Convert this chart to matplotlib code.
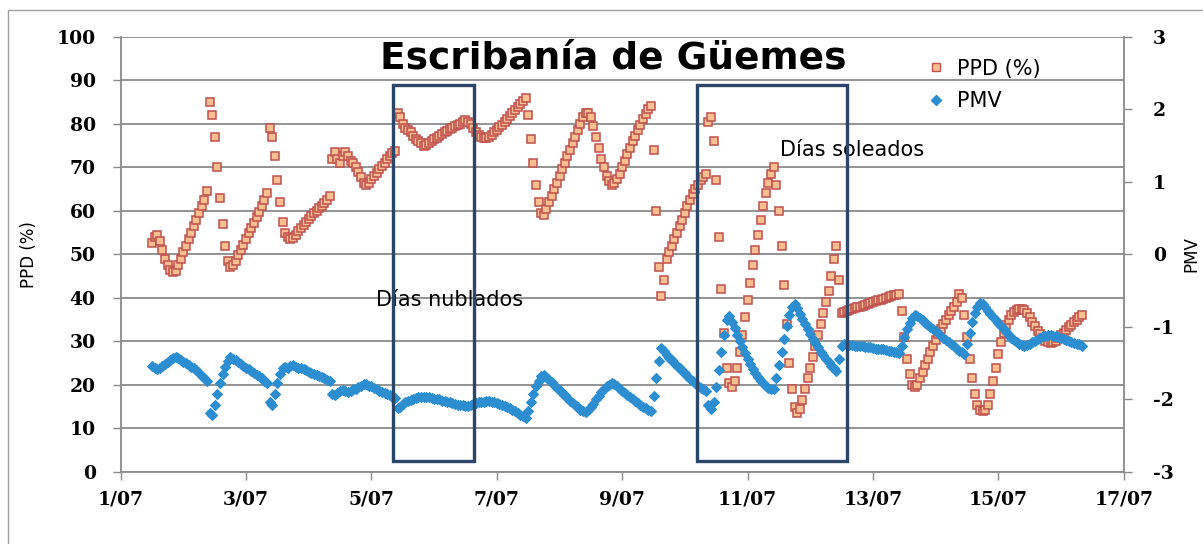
import numpy as np

import matplotlib
matplotlib.use('agg')

from matplotlib import pyplot as plt
from matplotlib.patches import Rectangle
from matplotlib.lines import Line2D

plt.rcParams['axes.unicode_minus'] = False

# hourly readings, first one on 1/07 at 12:00
start_day = 1.5

ppd = [
    52.5, 54.0, 54.5, 53.0, 51.0, 49.0, 47.5, 46.5, 46.0, 46.2, 47.5, 49.0, 50.5, 52.0, 53.5, 55.0, 56.5, 58.0, 59.5, 61.0, 62.5, 64.5, 85.0, 82.0,
    77.0, 70.0, 63.0, 57.0, 52.0, 48.5, 47.0, 47.5, 48.5, 49.8, 51.0, 52.2, 53.5, 54.8, 56.0, 57.2, 58.5, 59.8, 61.0, 62.5, 64.0, 79.0, 77.0, 72.5,
    67.0, 62.0, 57.5, 55.0, 54.0, 53.5, 53.8, 54.5, 55.3, 56.0, 56.8, 57.5, 58.2, 58.8, 59.5, 60.0, 60.6, 61.2, 61.8, 62.4, 63.5, 72.0, 73.5, 72.0,
    71.0, 72.5, 73.5, 72.5, 71.5, 71.0, 70.0, 69.0, 67.8, 66.5, 66.0, 66.5, 67.2, 68.0, 68.8, 69.5, 70.2, 71.0, 71.8, 72.5, 73.2, 73.8, 82.5, 81.5,
    80.0, 79.0, 78.5, 78.0, 77.3, 76.5, 76.0, 75.5, 75.0, 75.2, 75.5, 76.0, 76.4, 76.8, 77.2, 77.6, 78.0, 78.4, 78.8, 79.1, 79.4, 79.7, 80.0, 80.5,
    80.8, 80.5, 80.0, 79.0, 78.2, 77.5, 77.0, 76.8, 76.8, 77.0, 77.5, 78.0, 78.6, 79.2, 79.8, 80.4, 81.0, 81.7, 82.4, 83.1, 83.8, 84.5, 85.3, 86.0,
    82.0, 76.5, 71.0, 66.0, 62.0, 59.5, 59.0, 60.5, 62.0, 63.5, 65.0, 66.5, 68.0, 69.5, 71.0, 72.5, 74.0, 75.5, 77.0, 78.5, 80.0, 81.5, 82.5, 82.5,
    81.5, 79.5, 77.0, 74.5, 72.0, 70.0, 68.0, 66.8, 66.0, 66.3, 67.3, 68.5, 70.0, 71.5, 73.0, 74.5, 76.0, 77.3, 78.6, 79.8, 81.0, 82.2, 83.3, 84.0,
    74.0, 60.0, 47.0, 40.5, 44.0, 49.0, 50.5, 52.0, 53.5, 55.0, 56.5, 58.0, 59.5, 61.0, 62.5, 63.8, 65.0, 66.0, 67.0, 67.8, 68.5, 80.5, 81.5, 76.0,
    67.0, 54.0, 42.0, 32.0, 24.0, 20.5, 19.5, 21.0, 24.0, 27.5, 31.5, 35.5, 39.5, 43.5, 47.5, 51.0, 54.5, 58.0, 61.0, 64.0, 66.5, 68.5, 70.0, 66.0,
    60.0, 52.0, 43.0, 34.0, 25.0, 19.0, 15.0, 13.5, 14.5, 16.5, 19.0, 21.5, 24.0, 26.5, 29.0, 31.5, 34.0, 36.5, 39.0, 41.5, 45.0, 49.0, 52.0, 44.0,
    36.5, 36.8, 37.0, 37.2, 37.4, 37.6, 37.8, 38.0, 38.2, 38.4, 38.6, 38.8, 39.0, 39.2, 39.4, 39.6, 39.8, 40.0, 40.2, 40.4, 40.6, 40.7, 40.8, 37.0,
    31.0, 26.0, 22.5, 20.0, 19.5, 20.0, 21.5, 23.0, 24.5, 26.0, 27.5, 29.0, 30.3, 31.6, 32.9, 34.0, 35.0, 36.0, 37.0, 38.0, 39.0, 41.0, 40.0, 36.0,
    31.0, 26.0, 21.5, 18.0, 15.5, 14.3, 14.0, 14.2, 15.5, 18.0, 21.0, 24.0, 27.0, 29.8, 32.0, 33.8, 35.0, 36.0, 36.8, 37.3, 37.5, 37.5, 37.2, 36.5,
    35.5, 34.5, 33.5, 32.5, 31.6, 30.8, 30.2, 29.8, 29.6, 29.8, 30.2, 30.8, 31.4, 32.0, 32.6, 33.2, 33.8, 34.4, 35.0, 35.5, 36.0,
]

pmv = [
    -1.54, -1.56, -1.58, -1.57, -1.54, -1.51, -1.48, -1.45, -1.43, -1.41, -1.43, -1.45, -1.48, -1.50, -1.52, -1.55, -1.57, -1.60, -1.63, -1.67, -1.70, -1.74, -2.19, -2.22,
    -2.07, -1.92, -1.77, -1.65, -1.55, -1.47, -1.42, -1.44, -1.46, -1.49, -1.51, -1.54, -1.56, -1.58, -1.61, -1.63, -1.66, -1.68, -1.71, -1.74, -1.77, -2.04, -2.07, -1.92,
    -1.77, -1.65, -1.57, -1.55, -1.56, -1.54, -1.53, -1.55, -1.57, -1.57, -1.58, -1.60, -1.62, -1.63, -1.65, -1.66, -1.68, -1.69, -1.71, -1.73, -1.75, -1.92, -1.94, -1.91,
    -1.88, -1.87, -1.88, -1.90, -1.88, -1.86, -1.85, -1.83, -1.81, -1.79, -1.79, -1.81, -1.82, -1.84, -1.86, -1.88, -1.90, -1.91, -1.93, -1.94, -1.96, -1.98, -2.12, -2.10,
    -2.06, -2.04, -2.02, -2.01, -1.99, -1.98, -1.97, -1.96, -1.96, -1.96, -1.97, -1.98, -1.99, -2.00, -2.00, -2.02, -2.02, -2.03, -2.04, -2.05, -2.06, -2.07, -2.08, -2.08,
    -2.09, -2.09, -2.08, -2.06, -2.05, -2.04, -2.03, -2.03, -2.02, -2.02, -2.03, -2.04, -2.05, -2.06, -2.08, -2.09, -2.11, -2.12, -2.14, -2.16, -2.18, -2.21, -2.23, -2.25,
    -2.16, -2.04, -1.92, -1.81, -1.74, -1.68, -1.66, -1.69, -1.73, -1.76, -1.80, -1.84, -1.87, -1.91, -1.94, -1.98, -2.02, -2.05, -2.08, -2.11, -2.14, -2.16, -2.17, -2.15,
    -2.11, -2.06, -2.00, -1.95, -1.90, -1.86, -1.82, -1.80, -1.78, -1.79, -1.82, -1.85, -1.88, -1.91, -1.94, -1.97, -1.99, -2.02, -2.05, -2.08, -2.10, -2.12, -2.15, -2.16,
    -1.95, -1.71, -1.47, -1.29, -1.33, -1.39, -1.43, -1.46, -1.50, -1.54, -1.57, -1.61, -1.64, -1.68, -1.72, -1.75, -1.78, -1.81, -1.84, -1.86, -1.88, -2.07, -2.13, -2.04,
    -1.83, -1.59, -1.35, -1.11, -0.90, -0.85, -0.93, -1.02, -1.11, -1.20, -1.28, -1.36, -1.44, -1.51, -1.58, -1.64, -1.69, -1.74, -1.78, -1.81, -1.84, -1.85, -1.86, -1.71,
    -1.53, -1.35, -1.17, -0.99, -0.84, -0.73, -0.69, -0.74, -0.82, -0.89, -0.96, -1.03, -1.10, -1.16, -1.22, -1.28, -1.34, -1.39, -1.44, -1.49, -1.54, -1.57, -1.61, -1.44,
    -1.26, -1.24, -1.24, -1.25, -1.25, -1.26, -1.26, -1.27, -1.27, -1.28, -1.28, -1.28, -1.29, -1.30, -1.30, -1.31, -1.31, -1.32, -1.33, -1.33, -1.34, -1.35, -1.36, -1.26,
    -1.14, -1.03, -0.94, -0.88, -0.84, -0.85, -0.88, -0.91, -0.94, -0.97, -1.00, -1.03, -1.06, -1.09, -1.12, -1.15, -1.18, -1.21, -1.24, -1.27, -1.30, -1.33, -1.35, -1.37,
    -1.23, -1.08, -0.93, -0.81, -0.72, -0.67, -0.69, -0.73, -0.78, -0.82, -0.86, -0.91, -0.95, -0.99, -1.03, -1.07, -1.11, -1.15, -1.18, -1.21, -1.23, -1.25, -1.26, -1.25,
    -1.24, -1.21, -1.19, -1.16, -1.15, -1.13, -1.12, -1.11, -1.11, -1.12, -1.13, -1.14, -1.15, -1.16, -1.18, -1.19, -1.21, -1.22, -1.23, -1.24, -1.26,
]

x_ticks = [1, 3, 5, 7, 9, 11, 13, 15, 17]
x_tick_labels = ['1/07', '3/07', '5/07', '7/07', '9/07', '11/07', '13/07', '15/07', '17/07']
ppd_ticks = list(range(0, 101, 10))
pmv_ticks = list(range(-3, 4))

# boxes drawn over the chart (days, PPD units)
nublados_box = (5.34, 6.64, 2.5, 89.0)
soleados_box = (10.19, 12.58, 2.5, 89.0)

days = start_day + np.arange(len(ppd)) / 24.0

red = '#C0504D'
peach = '#F9BF8F'
blue = '#2C8DD0'
gray = '#8A8A8A'
navy = '#2A4668'
tick_font = dict(family='DejaVu Serif', weight='bold', size=13.5)

W, H = 1203, 544
fig = plt.figure(figsize=(W / 100, H / 100), dpi=100)
x0, x1, y0, y1 = 120.7, 1123.7, 36.7, 472.0
ax = fig.add_axes([x0 / W, 1 - y1 / H, (x1 - x0) / W, (y1 - y0) / H])
ax2 = ax.twinx()

# outer chart frame
fig.patches.append(Rectangle((8 / W, -0.1), 1.2, 1.1 - 10 / H, transform=fig.transFigure,
                             fill=False, edgecolor='#A0A0A0', linewidth=1.0))

ax.plot(days, ppd, ls='none', marker='s', ms=6, mfc=peach, mec=red, mew=1.1)
ax2.plot(days, pmv, ls='none', marker='D', ms=5.5, mfc=blue, mec=blue, mew=0.8)

ax.set_xlim(1, 17)
ax.set_ylim(0, 100)
ax2.set_ylim(-3, 3)

ax.set_xticks(x_ticks)
ax.set_xticklabels(x_tick_labels, fontdict=tick_font)
ax.set_yticks(ppd_ticks)
ax.set_yticklabels([str(v) for v in ppd_ticks], fontdict=tick_font)
ax2.set_yticks(pmv_ticks)
ax2.set_yticklabels([str(v) for v in pmv_ticks], fontdict=tick_font)

ax.yaxis.grid(True, color=gray, linewidth=1.3)
ax.set_axisbelow(True)
ax.tick_params(axis='y', direction='out', length=6, width=1, color=gray, pad=12)
ax.tick_params(axis='x', direction='out', length=6, width=1, color=gray, pad=7)
ax2.tick_params(axis='y', direction='out', length=6, width=1, color=gray, pad=15)

for s in ['top', 'right']:
    ax.spines[s].set_visible(False)
for s in ['top', 'left', 'bottom']:
    ax2.spines[s].set_visible(False)
ax.spines['left'].set_color(gray)
ax.spines['bottom'].set_color(gray)
ax2.spines['right'].set_color(gray)
ax.spines['left'].set_linewidth(1.3)
ax.spines['bottom'].set_linewidth(1.3)
ax2.spines['right'].set_linewidth(1.3)

ax.set_ylabel('PPD (%)', fontsize=12)
ax.yaxis.set_label_coords((38 - x0) / (x1 - x0), 0.5)
ax2.set_ylabel('PMV', fontsize=12, rotation=90)
ax2.yaxis.set_label_coords((1182 - x0) / (x1 - x0), 0.5)

ax2.text(8.85, 95.0, 'Escribanía de Güemes', transform=ax.transData, fontsize=27,
         fontweight='bold', ha='center', va='center', zorder=6)
ax2.text(6.24, 39.5, 'Días nublados', transform=ax.transData, fontsize=15,
         ha='center', va='center', zorder=6)
ax2.text(12.66, 74.0, 'Días soleados', transform=ax.transData, fontsize=15,
         ha='center', va='center', zorder=6)

for xa, xb, ya, yb in [nublados_box, soleados_box]:
    ax2.add_patch(Rectangle((xa, ya), xb - xa, yb - ya, transform=ax.transData,
                            fill=False, edgecolor=navy, linewidth=2.4, zorder=7, clip_on=False))

handles = [Line2D([], [], ls='none', marker='s', ms=6, mfc=peach, mec=red, mew=1.0),
           Line2D([], [], ls='none', marker='D', ms=5, mfc=blue, mec=blue)]
ax2.legend(handles, ['PPD (%)', 'PMV'], loc='center left', frameon=False,
           bbox_to_anchor=(926 / W, 1 - 85 / H), bbox_transform=fig.transFigure,
           fontsize=15, handlelength=1.0, handletextpad=0.5, labelspacing=0.6,
           borderpad=0, borderaxespad=0)

plt.savefig('out.png', dpi=100)
